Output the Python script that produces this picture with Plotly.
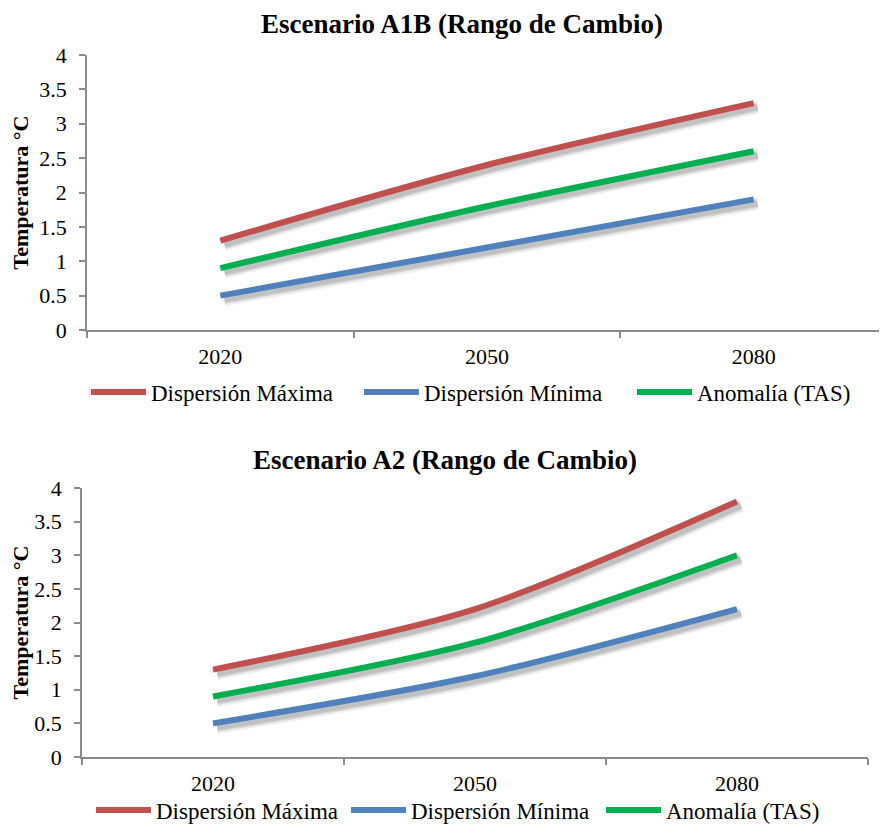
import plotly.graph_objects as go

years = ["2020", "2050", "2080"]
series_names = ["Dispersión Máxima", "Dispersión Mínima", "Anomalía (TAS)"]
colors = ["#C0504D", "#4F81BD", "#00B050"]

a1b_max = [1.3, 2.4, 3.3]
a1b_min = [0.5, 1.2, 1.9]
a1b_tas = [0.9, 1.8, 2.6]

a2_max = [1.3, 2.2, 3.8]
a2_min = [0.5, 1.2, 2.2]
a2_tas = [0.9, 1.7, 3.0]

titles = ["Escenario A1B (Rango de Cambio)", "Escenario A2 (Rango de Cambio)"]
y_ticks = [0, 0.5, 1, 1.5, 2, 2.5, 3, 3.5, 4]
y_ticktext = ["0", "0.5", "1", "1.5", "2", "2.5", "3", "3.5", "4"]

# page body has an 8px margin; figure sized so the page is exactly 887x833
OFF = 8
W, H = 879, 817
FONT = "Liberation Serif"
AXC = "#8C8C8C"

def px_x(p):
    return min(1.0, (p - OFF) / W)

def px_y(p):
    return min(1.0, max(0.0, (H - (p - OFF)) / H))

fig = go.Figure()

panels = [
    dict(x0=87, x1=887, ytop=55, ybot=330),
    dict(x0=82, x1=868, ytop=488, ybot=757),
]
data = [[a1b_max, a1b_min, a1b_tas], [a2_max, a2_min, a2_tas]]

DX, DY = 4, 4  # shadow offset in pixels

# soft shadow traces (axes 1,2) drawn first, beneath the main subplots
for i, p in enumerate(panels):
    ax = "" if i == 0 else "2"
    for vals in data[i]:
        for w, a in [(13, 0.06), (9, 0.10), (6, 0.10)]:
            fig.add_trace(go.Scatter(
                x=years, y=vals, mode="lines",
                line=dict(color="rgba(0,0,0,%s)" % a, width=w, shape="spline", smoothing=0.8),
                xaxis="x" + ax, yaxis="y" + ax, showlegend=False, hoverinfo="skip"))
    x0 = px_x(p["x0"] + DX)
    x1 = (p["x1"] + DX - OFF) / W
    fig.layout["xaxis" + ax] = dict(
        domain=[x0, 1.0], type="category",
        categoryorder="array", categoryarray=years,
        range=[-0.5, -0.5 + 3 * (1.0 - x0) / (x1 - x0)],
        visible=False, anchor="y" + ax)
    fig.layout["yaxis" + ax] = dict(
        domain=[px_y(p["ybot"] + DY), px_y(p["ytop"] + DY)], range=[0, 4],
        visible=False, anchor="x" + ax)

# main traces (axes 3,4)
for i, p in enumerate(panels):
    ax = str(i + 3)
    leg = "legend" if i == 0 else "legend2"
    for name, vals, c in zip(series_names, data[i], colors):
        fig.add_trace(go.Scatter(
            x=years, y=vals, mode="lines", name=name,
            line=dict(color=c, width=6, shape="spline", smoothing=0.8),
            xaxis="x" + ax, yaxis="y" + ax, legend=leg))
    fig.layout["xaxis" + ax] = dict(
        domain=[px_x(p["x0"]), px_x(p["x1"])], type="category",
        categoryorder="array", categoryarray=years, range=[-0.5, 2.5],
        showline=True, linecolor=AXC, linewidth=1.5, showgrid=False, zeroline=False,
        ticks="outside", tickson="boundaries", ticklen=6, tickcolor=AXC, tickwidth=1.5,
        tickfont=dict(family=FONT, size=22, color="black"), anchor="y" + ax,
        ticklabelstandoff=6)
    fig.layout["yaxis" + ax] = dict(
        domain=[px_y(p["ybot"]), px_y(p["ytop"])], range=[0, 4],
        tickvals=y_ticks, ticktext=y_ticktext,
        showline=True, linecolor=AXC, linewidth=1.5, showgrid=False, zeroline=False,
        ticks="outside", ticklen=6, tickcolor=AXC, tickwidth=1.5,
        tickfont=dict(family=FONT, size=22, color="black"), anchor="x" + ax,
        title=dict(text="<b>Temperatura °C</b>", font=dict(family=FONT, size=22, color="black"),
                   standoff=8),
        ticklabelstandoff=8)

fig.update_layout(
    width=W, height=H, margin=dict(l=0, r=0, t=0, b=0, autoexpand=False),
    plot_bgcolor="rgba(0,0,0,0)", paper_bgcolor="white",
    font=dict(family=FONT, color="black"),
    legend=dict(orientation="h", x=px_x(86), y=px_y(392), xanchor="left", yanchor="middle",
                font=dict(family=FONT, size=23, color="black"), entrywidth=203,
                itemwidth=55, bgcolor="rgba(0,0,0,0)"),
    legend2=dict(orientation="h", x=px_x(91), y=px_y(810), xanchor="left", yanchor="middle",
                 font=dict(family=FONT, size=23, color="black"), entrywidth=185,
                 itemwidth=55, bgcolor="rgba(0,0,0,0)"),
    annotations=[
        dict(text="<b>" + titles[0] + "</b>", x=px_x(462), y=1.0, xref="paper", yref="paper",
             showarrow=False, xanchor="center", yanchor="top", borderpad=0,
             font=dict(family=FONT, size=27, color="black")),
        dict(text="<b>" + titles[1] + "</b>", x=px_x(445), y=px_y(460), xref="paper", yref="paper",
             showarrow=False, xanchor="center", yanchor="middle",
             font=dict(family=FONT, size=27, color="black")),
    ],
)

fig.write_html("out.html")
